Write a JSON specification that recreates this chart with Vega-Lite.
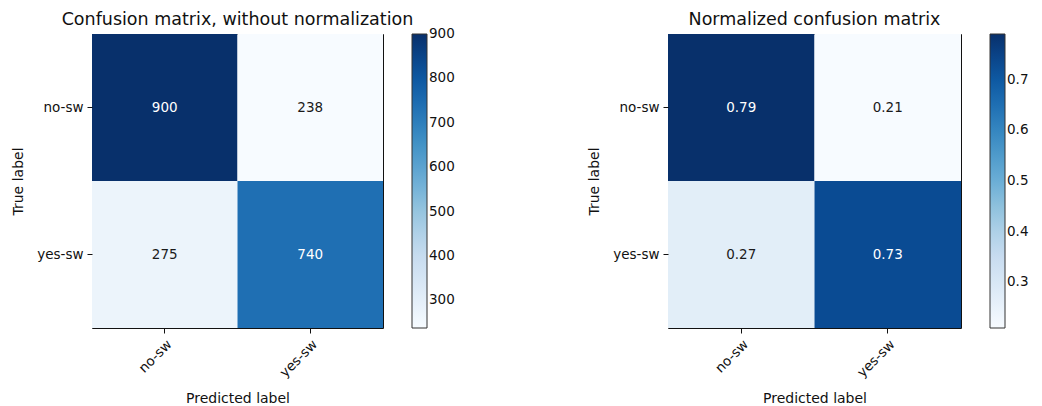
{
  "$schema": "https://vega.github.io/schema/vega-lite/v6.json",
  "padding": {"left": 11, "top": 10, "right": 0, "bottom": 0},
  "background": "white",
  "datasets": {
    "raw": [
      {"true_label": "no-sw", "predicted": "no-sw", "v": 900},
      {"true_label": "no-sw", "predicted": "yes-sw", "v": 238},
      {"true_label": "yes-sw", "predicted": "no-sw", "v": 275},
      {"true_label": "yes-sw", "predicted": "yes-sw", "v": 740}
    ],
    "norm": [
      {"true_label": "no-sw", "predicted": "no-sw", "v": 0.79},
      {"true_label": "no-sw", "predicted": "yes-sw", "v": 0.21},
      {"true_label": "yes-sw", "predicted": "no-sw", "v": 0.27},
      {"true_label": "yes-sw", "predicted": "yes-sw", "v": 0.73}
    ]
  },
  "hconcat": [
    {
      "data": {"name": "raw"},
      "width": 291,
      "height": 294,
      "title": {"text": "Confusion matrix, without normalization"},
      "encoding": {
        "x": {"field": "predicted", "type": "nominal", "title": "Predicted label",
              "scale": {"paddingInner": 0, "paddingOuter": 0},
              "axis": {"labelAngle": -45, "labelAlign": "right", "labelBaseline": "top", "titlePadding": 12}},
        "y": {"field": "true_label", "type": "nominal", "title": "True label",
              "scale": {"paddingInner": 0, "paddingOuter": 0},
              "axis": {"titlePadding": 11}}
      },
      "layer": [
        {
          "mark": {"type": "rect"},
          "encoding": {
            "color": {"field": "v", "type": "quantitative",
              "scale": {"type": "linear",
                "domain": [238, 320.75, 403.5, 486.25, 569, 651.75, 734.5, 817.25, 900],
                "range": ["#f7fbff", "#deebf7", "#c6dbef", "#9ecae1", "#6baed6", "#4292c6", "#2171b5", "#08519c", "#08306b"]},
              "legend": {"values": [300, 400, 500, 600, 700, 800, 899.99], "format": ".0f", "title": null}}
          }
        },
        {
          "mark": {"type": "text", "fontSize": 13.5, "font": "DejaVu Sans"},
          "encoding": {
            "text": {"field": "v", "type": "quantitative", "format": "d"},
            "color": {"condition": {"test": "datum.v > 450", "value": "white"}, "value": "#1a1a1a"}
          }
        }
      ],
      "resolve": {"scale": {"color": "independent"}}
    },
    {
      "data": {"name": "norm"},
      "width": 293,
      "height": 294,
      "title": {"text": "Normalized confusion matrix"},
      "encoding": {
        "x": {"field": "predicted", "type": "nominal", "title": "Predicted label",
              "scale": {"paddingInner": 0, "paddingOuter": 0},
              "axis": {"labelAngle": -45, "labelAlign": "right", "labelBaseline": "top", "titlePadding": 12}},
        "y": {"field": "true_label", "type": "nominal", "title": "True label",
              "scale": {"paddingInner": 0, "paddingOuter": 0},
              "axis": {"titlePadding": 11}}
      },
      "layer": [
        {
          "mark": {"type": "rect"},
          "encoding": {
            "color": {"field": "v", "type": "quantitative",
              "scale": {"type": "linear",
                "domain": [0.21, 0.2825, 0.355, 0.4275, 0.5, 0.5725, 0.645, 0.7175, 0.79],
                "range": ["#f7fbff", "#deebf7", "#c6dbef", "#9ecae1", "#6baed6", "#4292c6", "#2171b5", "#08519c", "#08306b"]},
              "legend": {"values": [0.3, 0.4, 0.5, 0.6, 0.7], "format": ".1f", "title": null}}
          }
        },
        {
          "mark": {"type": "text", "fontSize": 13.5, "font": "DejaVu Sans"},
          "encoding": {
            "text": {"field": "v", "type": "quantitative", "format": ".2f"},
            "color": {"condition": {"test": "datum.v > 0.395", "value": "white"}, "value": "#1a1a1a"}
          }
        }
      ],
      "resolve": {"scale": {"color": "independent"}}
    }
  ],
  "resolve": {"scale": {"color": "independent"}},
  "bounds": "flush",
  "spacing": 285,
  "config": {
    "font": "DejaVu Sans",
    "view": {"stroke": "#111", "strokeWidth": 1},
    "title": {"fontSize": 17.5, "fontWeight": "normal", "color": "#111", "anchor": "middle", "offset": 6, "font": "DejaVu Sans"},
    "axis": {
      "domain": false, "grid": false,
      "tickColor": "#111", "tickSize": 5, "tickWidth": 1,
      "labelFontSize": 13.5, "labelColor": "#111", "labelFont": "DejaVu Sans", "labelPadding": 4,
      "titleFontSize": 14, "titleFontWeight": "normal", "titleColor": "#111", "titleFont": "DejaVu Sans"
    },
    "axisY": {"labelAngle": 0},
    "legend": {
      "orient": "right", "direction": "vertical", "offset": 29, "padding": 0,
      "gradientLength": 294, "gradientThickness": 15,
      "gradientStrokeColor": "#333", "gradientStrokeWidth": 1,
      "labelFontSize": 13.5, "labelColor": "#111", "labelFont": "DejaVu Sans",
      "labelOffset": 9, "labelOverlap": false, "labelBaseline": "middle"
    }
  }
}
